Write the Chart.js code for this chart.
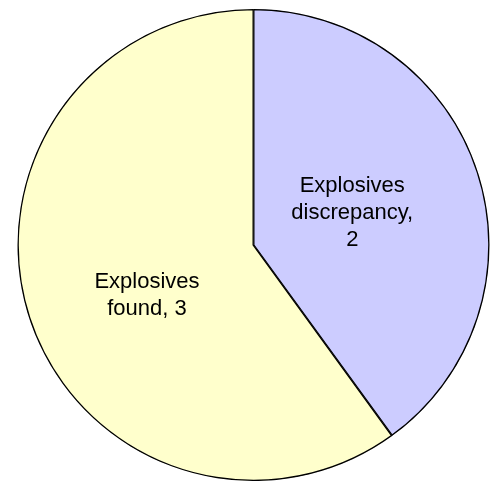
<!DOCTYPE html>
<html>
<head>
<meta charset="utf-8">
<script src="https://cdn.jsdelivr.net/npm/chart.js@4.4.0/dist/chart.umd.min.js"></script>
<style>
  html, body { margin: 0; padding: 0; background: #ffffff; }
  #wrap { width: 493px; height: 481px; }
</style>
</head>
<body>
<div id="wrap"><canvas id="pieChart" width="493" height="481"></canvas></div>
<script>
// Datos del gráfico
const categories = ['Explosives discrepancy', 'Explosives found'];
const values = [2, 3];
const sliceColors = ['#CCCCFF', '#FFFFCC'];
// Etiquetas en varias líneas, como en el original
const labelLines = [
    ['Explosives', 'discrepancy,', '2'],
    ['Explosives', 'found, 3']
];
// Posición de etiqueta: fracción del radio y desplazamiento de ángulo (grados)
const labelRadius = [0.44, 0.50];
const labelShift = [0, -7.5];

// Plugin sencillo para dibujar las etiquetas dentro de cada sector
const sliceLabels = {
    id: 'sliceLabels',
    afterDatasetsDraw(chart) {
        const ctx = chart.ctx;
        const meta = chart.getDatasetMeta(0);
        ctx.save();
        ctx.font = '22px "Liberation Sans", Arial, sans-serif';
        ctx.fillStyle = '#000000';
        ctx.textAlign = 'center';
        ctx.textBaseline = 'middle';
        const lineHeight = 27;
        meta.data.forEach((arc, i) => {
            const mid = (arc.startAngle + arc.endAngle) / 2 + labelShift[i] * Math.PI / 180;
            const r = arc.outerRadius * labelRadius[i];
            const x = arc.x + Math.cos(mid) * r;
            const y = arc.y + Math.sin(mid) * r;
            const lines = labelLines[i];
            lines.forEach((line, j) => {
                ctx.fillText(line, x, y + (j - (lines.length - 1) / 2) * lineHeight);
            });
        });
        ctx.restore();
    }
};

const ctx = document.getElementById('pieChart').getContext('2d');

const pieChart = new Chart(ctx, {
    type: 'pie',
    data: {
        labels: categories,
        datasets: [{
            data: values,
            backgroundColor: sliceColors,
            borderColor: '#000000',
            borderWidth: 1,
            borderAlign: 'inner'
        }]
    },
    options: {
        responsive: false,
        animation: false,
        layout: {
            padding: { top: 9, left: 14, right: 0, bottom: 0 }
        },
        plugins: {
            legend: { display: false },
            tooltip: { enabled: false },
            title: { display: false }
        }
    },
    plugins: [sliceLabels]
});
</script>
</body>
</html>
